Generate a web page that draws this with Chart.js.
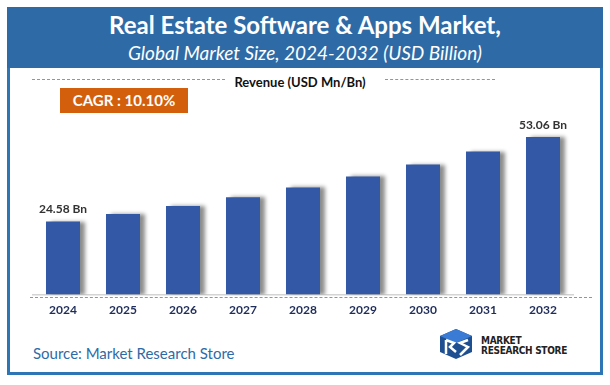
<!DOCTYPE html>
<html>
<head>
<meta charset="utf-8">
<script src="https://cdn.jsdelivr.net/npm/chart.js@4"></script>
<style>
  body { margin: 0; background: #fff; font-family: Lato, "Open Sans", sans-serif; }
  #page { position: relative; width: 610px; height: 385px; overflow: hidden; }
  #frame { position: absolute; left: 7px; top: 7px; width: 590px; height: 365px; border: 3px solid #2E75B6; border-top: none; }
  #header { position: absolute; left: 7px; top: 7px; width: 596px; height: 61px; background: #2E6BA6; color: #fff; text-align: center; }
  #header .t1 { font-weight: bold; font-size: 24px; margin-top: 4px; line-height: 28px; }
  #header .t2 { font-style: italic; font-size: 19px; line-height: 24px; margin-top: 2px; }
  .dash { position: absolute; height: 0; border-top: 1.5px dashed #6F9BDC; }
  #rev { position: absolute; left: 0; width: 600px; top: 74px; text-align: center; font-weight: bold; font-size: 13px; color: #111; }
  #cagr { position: absolute; left: 60px; top: 88px; width: 128px; height: 25px; background: #D35F0D; color: #fff; font-weight: bold; font-size: 15px; line-height: 25px; text-align: center; }
  #source { position: absolute; left: 33px; top: 344px; font-size: 15px; color: #2E6BA6; }
  #logo { position: absolute; left: 436px; top: 328px; }
  #logo .txt { position: absolute; left: 45px; top: 8px; font-family: "Liberation Sans Narrow", "DejaVu Sans Condensed", sans-serif; font-weight: bold; font-size: 10px; line-height: 10px; color: #222; white-space: nowrap; letter-spacing: -0.3px; }
  canvas { position: absolute; left: 0; top: 0; }
</style>
</head>
<body>
<div id="page">
  <div id="frame"></div>
  <div id="header">
    <div class="t1">Real Estate Software &amp; Apps Market,</div>
    <div class="t2">Global Market Size, 2024-2032 (USD Billion)</div>
  </div>
  <div class="dash" style="left:32px; top:79px; width:193px;"></div>
  <div class="dash" style="left:385px; top:79px; width:110px;"></div>
  <div id="rev">Revenue (USD Mn/Bn)</div>
  <div id="cagr">CAGR : 10.10%</div>
  <div class="dash" style="left:30px; top:297px; width:562px;"></div>
  <div id="source">Source: Market Research Store</div>
  <div id="logo">
    <svg width="40" height="32" viewBox="0 0 40 32">
      <polygon points="4,8 20,1 36,8 36,24 20,31 4,24" fill="#1E4F91"/>
      <polygon points="4,8 20,1 36,8 20,15" fill="#3A7BD5"/>
      <path d="M10,12 L10,26 M10,12 L18,15 L14,19 L20,24" stroke="#fff" stroke-width="2.5" fill="none"/>
      <path d="M32,12 L24,15 L32,19 L24,27" stroke="#fff" stroke-width="2.5" fill="none"/>
    </svg>
    <div class="txt">MARKET<br>RESEARCH STORE</div>
  </div>
  <canvas id="chart" width="610" height="385"></canvas>
</div>
<script>
const years = ['2024', '2025', '2026', '2027', '2028', '2029', '2030', '2031', '2032'];
const revenue = [24.58, 27.1, 29.8, 32.8, 36.1, 39.8, 43.8, 48.2, 53.06];
const valueLabels = ['24.58 Bn', '', '', '', '', '', '', '', '53.06 Bn'];

// soft shadow on the right of each bar
const barShadow = {
  id: 'barShadow',
  beforeDatasetDraw(chart) {
    const ctx = chart.ctx;
    ctx.save();
    ctx.shadowColor = 'rgba(0,0,0,0.45)';
    ctx.shadowOffsetX = 5;
    ctx.shadowOffsetY = 0;
    ctx.shadowBlur = 4;
  },
  afterDatasetDraw(chart) {
    chart.ctx.restore();
  }
};

const valueText = {
  id: 'valueText',
  afterDatasetsDraw(chart) {
    const ctx = chart.ctx;
    const meta = chart.getDatasetMeta(0);
    ctx.save();
    ctx.font = 'bold 12px Lato, "Open Sans", sans-serif';
    ctx.fillStyle = '#333';
    ctx.textAlign = 'center';
    ctx.textBaseline = 'bottom';
    meta.data.forEach((bar, i) => {
      if (valueLabels[i]) ctx.fillText(valueLabels[i], bar.x, bar.y - 6);
    });
    ctx.restore();
  }
};

const ctx = document.getElementById('chart').getContext('2d');
new Chart(ctx, {
  type: 'bar',
  data: {
    labels: years,
    datasets: [{
      data: revenue,
      backgroundColor: '#3358A5',
      borderWidth: 0,
      categoryPercentage: 1,
      barPercentage: 0.567
    }]
  },
  options: {
    responsive: false,
    animation: false,
    layout: { padding: { left: 33, right: 37, top: 116.5, bottom: 70.5 } },
    plugins: { legend: { display: false }, tooltip: { enabled: false } },
    scales: {
      x: {
        grid: { display: false, drawTicks: false },
        border: { display: true, color: '#d4d4d4', width: 1.5 },
        ticks: { color: '#1F2D5A', font: { family: 'Lato, "Open Sans", sans-serif', weight: 'bold', size: 12 }, padding: 8 },
        afterFit(scale) { scale.height = 20; }
      },
      y: { display: false, min: 0, max: 60 }
    }
  },
  plugins: [barShadow, valueText]
});
</script>
</body>
</html>
